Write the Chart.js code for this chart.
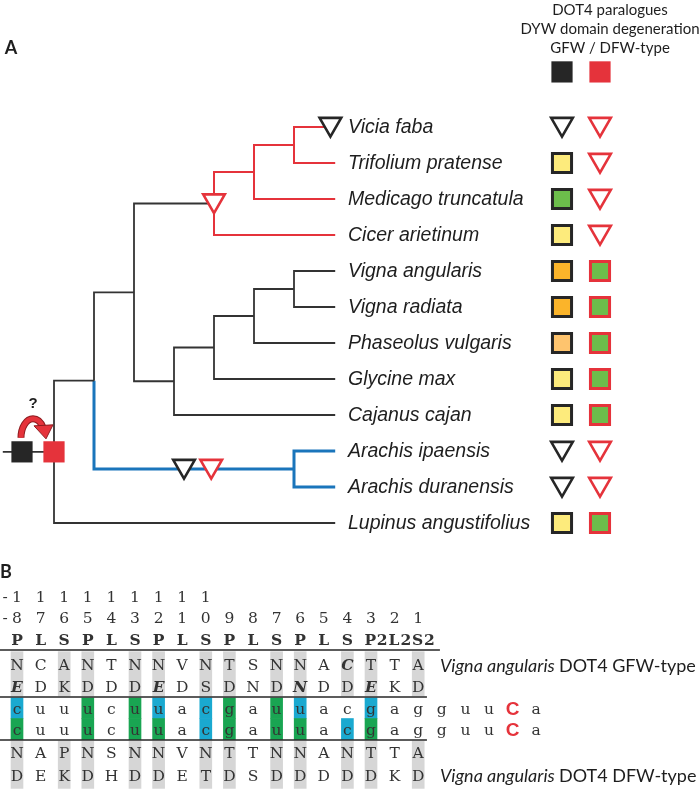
<!DOCTYPE html>
<html><head><meta charset="utf-8">
<title>DOT4 paralogues in legumes</title>
<style>
  body { margin: 0; background: #fff; }
  #wrap { position: relative; width: 699px; height: 791px; overflow: hidden; }
  #treeChart { position: absolute; left: 0; top: 0; }
  #alignChart { position: absolute; left: 0; top: 548px; }
</style>
<script src="https://cdn.jsdelivr.net/npm/chart.js"></script>
</head>
<body>
<div id="wrap">
  <canvas id="treeChart" width="699" height="548"></canvas>
  <canvas id="alignChart" width="699" height="243"></canvas>
</div>
<script>
// ---------- panel A data ----------
const taxa = ['Vicia faba', 'Trifolium pratense', 'Medicago truncatula', 'Cicer arietinum',
  'Vigna angularis', 'Vigna radiata', 'Phaseolus vulgaris', 'Glycine max', 'Cajanus cajan',
  'Arachis ipaensis', 'Arachis duranensis', 'Lupinus angustifolius'];
// state of the GFW-type and DFW-type paralogue per taxon ('lost' = triangle)
const gfwType = ['lost', 'yellow', 'green', 'yellow', 'orange', 'orange', 'apricot', 'yellow', 'yellow', 'lost', 'lost', 'yellow'];
const dfwType = ['lost', 'lost', 'lost', 'lost', 'green', 'green', 'green', 'green', 'green', 'lost', 'lost', 'green'];
const legendLines = ['DOT4 paralogues', 'DYW domain degeneration', 'GFW / DFW-type'];

// cladogram: d = node depth, c = children (number = taxon index)
const tree = { d: 0, c: [
  { d: 1, c: [
    { d: 2, c: [
      { d: 4, id: 'IRLC', sub: 'red', c: [ { d: 5, c: [ { d: 6, c: [0, 1] }, 2 ] }, 3 ] },
      { d: 3, c: [ { d: 4, c: [ { d: 5, c: [ { d: 6, c: [4, 5] }, 6 ] }, 7 ] }, 8 ] }
    ] },
    { d: 6, id: 'Arachis', edge: 'blue', c: [9, 10] }
  ] },
  11
] };
const tipDepth = 7.03;
// losses on branches: node (or taxon index), depth along branch, paralogue type
const lossEvents = [
  { node: 'IRLC', at: 4.0, type: 'DFW' },
  { node: 'Arachis', at: 3.25, type: 'GFW' },
  { node: 'Arachis', at: 3.93, type: 'DFW' },
  { node: 0, at: 6.91, type: 'GFW' }
];

// ---------- panel B data ----------
const posTens  = ['-1', '1', '1', '1', '1', '1', '1', '1', '1'];
const posUnits = ['-8', '7', '6', '5', '4', '3', '2', '1', '0', '9', '8', '7', '6', '5', '4', '3', '2', '1'];
const pprMotif = ['P', 'L', 'S', 'P', 'L', 'S', 'P', 'L', 'S', 'P', 'L', 'S', 'P', 'L', 'S', 'P2', 'L2', 'S2'];
const gfwRes5  = ['N', 'C', 'A', 'N', 'T', 'N', 'N', 'V', 'N', 'T', 'S', 'N', 'N', 'A', 'C', 'T', 'T', 'A'];
const gfwResL  = ['E', 'D', 'K', 'D', 'D', 'D', 'E', 'D', 'S', 'D', 'N', 'D', 'N', 'D', 'D', 'E', 'K', 'D'];
const gfwRes5Emph = [14];
const gfwResLEmph = [0, 6, 12, 15];
const rnaSite  = ['c', 'u', 'u', 'u', 'c', 'u', 'u', 'a', 'c', 'g', 'a', 'u', 'u', 'a', 'c', 'g', 'a', 'g', 'g', 'u', 'u', 'C', 'a'];
const editedC  = 21;
// match per position: 'p' = cyan, 'm' = green
const gfwMatch = ['p', '', '', 'm', '', 'm', 'p', '', 'p', 'm', '', 'm', 'p', '', '', 'p', '', ''];
const dfwMatch = ['m', '', '', 'm', '', 'm', 'm', '', 'p', 'm', '', 'm', 'm', '', 'p', 'm', '', ''];
const dfwRes5  = ['N', 'A', 'P', 'N', 'S', 'N', 'N', 'V', 'N', 'T', 'T', 'N', 'N', 'A', 'N', 'T', 'T', 'A'];
const dfwResL  = ['D', 'E', 'K', 'D', 'H', 'D', 'D', 'E', 'T', 'D', 'S', 'D', 'D', 'D', 'D', 'D', 'K', 'D'];

// ---------- styling ----------
const fill = { yellow: '#fdeb7c', green: '#6cbd4b', orange: '#fbb42a', apricot: '#fec46e' };
const RED = '#e5333b', BLACK = '#262626', BLUE = '#1a75bb', GREY = '#d6d6d6';
const matchCol = { p: '#1aa9d0', m: '#19a552' };
const gfwColX = 12.7, dfwColX = 13.65, labelX = 7.35, legendY = -1.53;
const triShift = -0.08;

// ---------- tree layout ----------
function place(n) {
  if (typeof n === 'number') return { y: n, d: tipDepth, c: [], id: n };
  const kids = n.c.map(place);
  return Object.assign({}, n, { c: kids, y: (kids[0].y + kids[kids.length - 1].y) / 2 });
}
const root = place(tree);
const nodeY = {};
const branches = { black: [], red: [], blue: [] };
function walk(n, colour) {
  nodeY[n.id] = n.y;
  n.c.forEach(k => {
    const col = k.edge || colour;
    branches[col].push({ x: n.d, y: n.y }, { x: n.d, y: k.y }, { x: k.d, y: k.y }, { x: null, y: null });
    walk(k, k.sub || col);
  });
}
walk(root, 'black');
branches.black.push({ x: -1.28, y: root.y }, { x: 0, y: root.y });

const line = (data, colour, w) => ({
  type: 'scatter', data, showLine: true, spanGaps: false, borderColor: colour,
  borderWidth: w, pointRadius: 0, borderCapStyle: 'butt', order: 5, clip: false
});
const marks = (data, opts) => Object.assign({
  type: 'scatter', data, order: 1, clip: false, pointBorderWidth: 3
}, opts);
const idx = (arr, f) => arr.map((v, i) => f(v) ? i : -1).filter(i => i >= 0);

const gfwKept = idx(gfwType, v => v !== 'lost');
const gfwLost = idx(gfwType, v => v === 'lost');
const dfwKept = idx(dfwType, v => v !== 'lost');
const dfwLost = idx(dfwType, v => v === 'lost');
const triangle = { pointStyle: 'triangle', rotation: 180, pointRadius: 12.5, pointBackgroundColor: '#fff', pointBorderWidth: 2.6 };
const eventPts = t => lossEvents.filter(e => e.type === t)
  .map(e => ({ x: e.at, y: nodeY[e.node] + triShift }));

const textA = {
  id: 'textA',
  afterDatasetsDraw(chart) {
    const { ctx, scales: { x, y } } = chart;
    ctx.save();
    ctx.textBaseline = 'middle';
    ctx.fillStyle = '#1e1e1e';
    ctx.font = 'italic 19.5px "Liberation Sans"';
    taxa.forEach((t, i) => ctx.fillText(t, x.getPixelForValue(labelX), y.getPixelForValue(i) + 1));
    ctx.font = '15px Lato';
    ctx.textAlign = 'center';
    legendLines.forEach((t, i) => ctx.fillText(t, x.getPixelForValue(13.9), y.getPixelForValue(-3.25 + 0.53 * i)));
    ctx.textAlign = 'left';
    ctx.font = 'bold 18px Lato';
    ctx.fillText('A', x.getPixelForValue(-1.23), y.getPixelForValue(-2.19));
    // switch arrow above the two root paralogues
    const bx = x.getPixelForValue(-0.8), by = y.getPixelForValue(root.y);
    ctx.font = 'bold 15px "Liberation Sans"';
    ctx.textAlign = 'center';
    ctx.fillText('?', bx + 11, by - 48);
    ctx.beginPath();
    ctx.ellipse(bx + 11, by - 14, 12, 19, 0, Math.PI, 2 * Math.PI - 0.55);
    ctx.strokeStyle = '#8d1b1f';
    ctx.lineWidth = 7;
    ctx.stroke();
    ctx.strokeStyle = RED;
    ctx.lineWidth = 5;
    ctx.stroke();
    ctx.beginPath();
    ctx.moveTo(bx + 12, by - 26);
    ctx.lineTo(bx + 31, by - 27);
    ctx.lineTo(bx + 24, by - 13);
    ctx.closePath();
    ctx.fillStyle = RED;
    ctx.fill();
    ctx.strokeStyle = '#8d1b1f';
    ctx.lineWidth = 1;
    ctx.stroke();
    ctx.restore();
  }
};

new Chart(document.getElementById('treeChart'), {
  type: 'scatter',
  data: {
    datasets: [
      line(branches.black, '#333', 1.8),
      line(branches.red, RED, 2),
      line(branches.blue, BLUE, 3),
      marks(gfwKept.map(i => ({ x: gfwColX, y: i })), {
        pointStyle: 'rect', pointRadius: 13.5, pointBorderColor: BLACK,
        pointBackgroundColor: gfwKept.map(i => fill[gfwType[i]]) }),
      marks(dfwKept.map(i => ({ x: dfwColX, y: i })), {
        pointStyle: 'rect', pointRadius: 13.5, pointBorderColor: RED,
        pointBackgroundColor: dfwKept.map(i => fill[dfwType[i]]) }),
      marks(gfwLost.map(i => ({ x: gfwColX, y: i + triShift })), Object.assign({ pointBorderColor: BLACK }, triangle)),
      marks(dfwLost.map(i => ({ x: dfwColX, y: i + triShift })), Object.assign({ pointBorderColor: RED }, triangle)),
      marks(eventPts('GFW'), Object.assign({ pointBorderColor: BLACK }, triangle)),
      marks(eventPts('DFW'), Object.assign({ pointBorderColor: RED }, triangle)),
      marks([{ x: gfwColX, y: legendY }, { x: -0.8, y: root.y }], {
        pointStyle: 'rect', pointRadius: 15, pointBorderWidth: 0, pointBackgroundColor: BLACK }),
      marks([{ x: dfwColX, y: legendY }, { x: 0, y: root.y }], {
        pointStyle: 'rect', pointRadius: 15, pointBorderWidth: 0, pointBackgroundColor: RED })
    ]
  },
  options: {
    responsive: false, animation: false, devicePixelRatio: 1,
    layout: { padding: 0, autoPadding: false },
    plugins: { legend: { display: false }, tooltip: { enabled: false } },
    scales: {
      x: { type: 'linear', display: false, min: -1.35, max: 16.125 },
      y: { type: 'linear', display: false, reverse: true, min: -3.5278, max: 11.694 }
    }
  },
  plugins: [textA]
});

// ---------- panel B ----------
const stripeCols = idx(pprMotif, v => v[0] !== 'L');
const bars = (data, colour) => ({
  type: 'bar', data, backgroundColor: colour, barThickness: 12, grouped: false,
  borderWidth: 0, order: 5
});
const cellBars = (match, y0, y1) => match.map((m, c) => m ? { x: c, y: [y0, y1], m } : null).filter(Boolean);
const allCells = cellBars(gfwMatch, 4.65, 5.6).concat(cellBars(dfwMatch, 5.6, 6.57));

const rowsB = [
  { cells: posTens, r: 0, anchor: 'last' },
  { cells: posUnits, r: 0.98, anchor: 'last' },
  { cells: pprMotif, r: 1.96, anchor: 'first', bold: true },
  { cells: gfwRes5, r: 3.13, emph: gfwRes5Emph },
  { cells: gfwResL, r: 4.15, emph: gfwResLEmph },
  { cells: rnaSite, r: 5.15, red: editedC },
  { cells: rnaSite, r: 6.13, red: editedC },
  { cells: dfwRes5, r: 7.19 },
  { cells: dfwResL, r: 8.23 }
];
const SERIF = '15.5px "DejaVu Serif"';
const textB = {
  id: 'textB',
  afterDatasetsDraw(chart) {
    const { ctx, scales: { x, y } } = chart;
    const half = 5.9;
    ctx.save();
    ctx.textBaseline = 'middle';
    ctx.textAlign = 'center';
    rowsB.forEach(row => {
      const py = y.getPixelForValue(row.r) + 1;
      row.cells.forEach((t, c) => {
        const px = x.getPixelForValue(c);
        ctx.fillStyle = '#333';
        ctx.font = (row.bold ? 'bold ' : '') + SERIF;
        if (row.emph && row.emph.includes(c)) ctx.font = 'italic bold ' + SERIF;
        if (row.red === c) { ctx.font = 'bold 19px "Liberation Sans"'; ctx.fillStyle = RED; }
        if (t.length === 1) ctx.fillText(t, px, py);
        else if (row.anchor === 'last') {
          ctx.fillText(t.slice(-1), px, py);
          ctx.fillText(t.slice(0, -1), px - 2 * half, py);
        } else {
          ctx.fillText(t[0], px - 0.1 * half, py);
          ctx.fillText(t.slice(1), px + 1.9 * half, py);
        }
      });
    });
    ctx.textAlign = 'left';
    ctx.fillStyle = '#1e1e1e';
    [['GFW-type', 3.13], ['DFW-type', 8.23]].forEach(([t, r]) => {
      const py = y.getPixelForValue(r) + 1;
      let px = x.getPixelForValue(17.92);
      ctx.font = 'italic 18px Lato';
      ctx.fillText('Vigna angularis', px, py);
      px += ctx.measureText('Vigna angularis ').width;
      ctx.font = '18px Lato';
      ctx.fillText('DOT4 ' + t, px, py);
    });
    ctx.font = 'bold 18px Lato';
    ctx.fillText('B', x.getPixelForValue(-0.72), y.getPixelForValue(-1.15));
    ctx.restore();
  }
};

new Chart(document.getElementById('alignChart'), {
  type: 'scatter',
  data: {
    datasets: [
      line([{ x: -0.72, y: 2.44 }, { x: 17.92, y: 2.44 }], BLACK, 1.5),
      line([{ x: -0.72, y: 4.61 }, { x: 17.37, y: 4.61 }], BLACK, 1.5),
      line([{ x: -0.72, y: 6.59 }, { x: 17.37, y: 6.59 }], BLACK, 1.5),
      bars(stripeCols.map(c => ({ x: c, y: [2.52, 4.56] })), GREY),
      bars(stripeCols.map(c => ({ x: c, y: [6.64, 8.82] })), GREY),
      bars(allCells, allCells.map(b => matchCol[b.m]))
    ]
  },
  options: {
    responsive: false, animation: false, devicePixelRatio: 1,
    layout: { padding: 0, autoPadding: false },
    plugins: { legend: { display: false }, tooltip: { enabled: false } },
    scales: {
      x: { type: 'linear', display: false, min: -0.7203, max: 28.898, offset: false },
      y: { type: 'linear', display: false, reverse: true, min: -2.258, max: 8.94 }
    }
  },
  plugins: [textB]
});
</script>
</body></html>
